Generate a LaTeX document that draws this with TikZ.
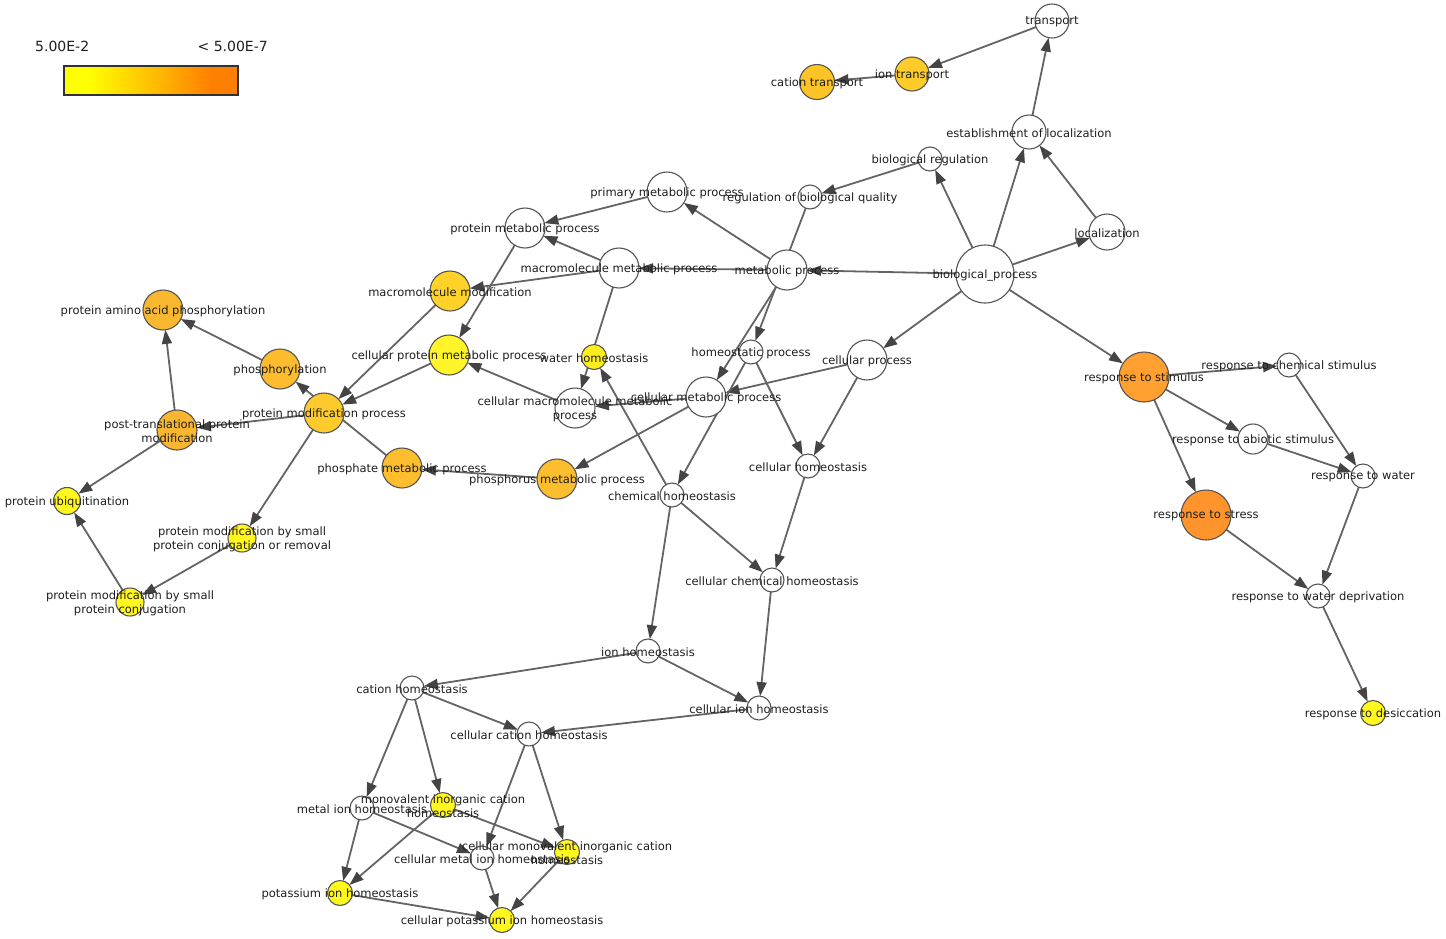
\documentclass[tikz,border=0pt]{standalone}
\usepackage{fontspec}
\setmainfont{DejaVu Sans}
\usetikzlibrary{arrows.meta}
\pgfdeclarelayer{bg}
\pgfsetlayers{bg,main}
\definecolor{ndraw}{RGB}{85,85,85}
\definecolor{ecol}{RGB}{100,100,100}
\definecolor{tipcol}{RGB}{68,68,68}
\definecolor{txt}{RGB}{30,30,30}
\definecolor{cyel}{RGB}{255,247,30}
\definecolor{citr}{RGB}{254,204,42}
\definecolor{cctr}{RGB}{253,196,40}
\definecolor{cmm}{RGB}{254,210,40}
\definecolor{cpaap}{RGB}{250,184,48}
\definecolor{cphos}{RGB}{252,188,46}
\definecolor{cpmp}{RGB}{254,202,44}
\definecolor{cptm}{RGB}{250,182,48}
\definecolor{cphate}{RGB}{252,190,46}
\definecolor{ccpmp}{RGB}{255,245,40}
\definecolor{cwh}{RGB}{255,238,30}
\definecolor{crs}{RGB}{255,160,48}
\definecolor{crst}{RGB}{255,148,44}
\definecolor{lyel}{RGB}{255,255,0}
\definecolor{lmid}{RGB}{255,192,0}
\definecolor{lor}{RGB}{255,128,0}
\definecolor{lbord}{RGB}{50,50,50}
\pgfdeclarehorizontalshading{legendgrad}{100bp}{color(0bp)=(lyel); color(32bp)=(lyel); color(50bp)=(lmid); color(67bp)=(lor); color(100bp)=(lor)}
\tikzset{
  gn/.style={circle, draw=ndraw, line width=1.1pt, fill=white, inner sep=0pt, outer sep=0pt, minimum size=#1},
  lbl/.style={text=txt, inner sep=0pt, align=center, yshift=-1pt, font=\fontsize{11.5}{14}\selectfont},
  leglbl/.style={text=txt, inner sep=0pt, font=\fontsize{14}{16}\selectfont},
  edge/.style={draw=ecol, line width=1.8pt, -{Triangle[length=14pt,width=10pt,color=tipcol]}}
}
\begin{document}
\begin{tikzpicture}[x=1pt,y=-1pt]
\useasboundingbox (0,0) rectangle (1446,938);
% legend
\node[leglbl, anchor=west] (legL) at (35,46) {5.00E-2};
\node[leglbl, anchor=east] (legR) at (268,46) {< 5.00E-7};
\node[draw=lbord, line width=1.1pt, shading=legendgrad, minimum width=174pt, minimum height=29pt, inner sep=0pt] (legbar) at (151,80.5) {};
% nodes
\node[gn=34] (tr) at (1052,21) {};
\node[gn=34, fill=citr] (itr) at (912,74) {};
\node[gn=35, fill=cctr] (ctr) at (817,82) {};
\node[gn=34] (eol) at (1029,132) {};
\node[gn=24] (breg) at (930,159) {};
\node[gn=24] (rbq) at (810,197) {};
\node[gn=40] (pmp1) at (667,192) {};
\node[gn=40] (protmp) at (525,228) {};
\node[gn=36] (loc) at (1107,232) {};
\node[gn=58] (bp) at (985,274) {};
\node[gn=40] (mp) at (787,270) {};
\node[gn=40] (mmp) at (619,268) {};
\node[gn=40, fill=cmm] (mmod) at (450,291) {};
\node[gn=40, fill=cpaap] (paap) at (163,310) {};
\node[gn=40, fill=cphos] (phos) at (280,369) {};
\node[gn=40, fill=ccpmp] (cpmp) at (449,355) {};
\node[gn=25, fill=cwh] (wh) at (594,357) {};
\node[gn=24] (hp) at (751,352) {};
\node[gn=40] (cp) at (867,360) {};
\node[gn=50, fill=crs] (rstim) at (1144,377) {};
\node[gn=24] (rchem) at (1289,365) {};
\node[gn=40, fill=cpmp] (pmodp) at (324,413) {};
\node[gn=40, fill=cptm] (ptm) at (177,430) {};
\node[gn=40] (cmmp) at (575,408) {};
\node[gn=40] (cmp) at (706,397) {};
\node[gn=30] (rabio) at (1253,439) {};
\node[gn=40, fill=cphate] (phate) at (402,468) {};
\node[gn=40, fill=cphate] (phorus) at (557,479) {};
\node[gn=24] (chom) at (808,466) {};
\node[gn=24] (chem) at (672,495) {};
\node[gn=24] (rwater) at (1363,476) {};
\node[gn=27, fill=cyel] (ubiq) at (67,501) {};
\node[gn=50, fill=crst] (rstress) at (1206,515) {};
\node[gn=28, fill=cyel] (pmcr) at (242,538) {};
\node[gn=24] (cchem) at (772,580) {};
\node[gn=24] (rwd) at (1318,596) {};
\node[gn=28, fill=cyel] (pmc) at (130,602) {};
\node[gn=24] (ionh) at (648,651) {};
\node[gn=24] (cath) at (412,688) {};
\node[gn=24] (cionh) at (759,708) {};
\node[gn=25, fill=cyel] (rdes) at (1373,713) {};
\node[gn=24] (ccath) at (529,734) {};
\node[gn=24] (metal) at (362,808) {};
\node[gn=25, fill=cyel] (mono) at (443,805) {};
\node[gn=24] (cmetal) at (482,858) {};
\node[gn=25, fill=cyel] (cmono) at (567,852) {};
\node[gn=25, fill=cyel] (pot) at (340,893) {};
\node[gn=25, fill=cyel] (cpot) at (502,920) {};
% edges
\begin{pgfonlayer}{bg}
\foreach \a/\b in {bp/breg, bp/eol, bp/loc, bp/mp, bp/cp, bp/rstim,
  loc/eol, eol/tr, tr/itr, itr/ctr, breg/rbq, rbq/hp,
  mp/pmp1, mp/mmp, mp/cmp, pmp1/protmp, mmp/protmp, mmp/mmod, mmp/cmmp,
  cmp/cmmp, cmp/phorus, cp/cmp, cp/chom, hp/chom, hp/chem,
  protmp/cpmp, cmmp/cpmp, mmod/pmodp, cpmp/pmodp, phate/phos, phorus/phate,
  pmodp/ptm, ptm/paap, phos/paap, ptm/ubiq, pmodp/pmcr, pmcr/pmc, pmc/ubiq,
  chem/wh, chem/ionh, chem/cchem, chom/cchem, cchem/cionh,
  ionh/cath, ionh/cionh, cionh/ccath, cath/ccath, cath/metal, cath/mono,
  ccath/cmetal, ccath/cmono, metal/cmetal, metal/pot, mono/cmono, mono/pot,
  pot/cpot, cmetal/cpot, cmono/cpot,
  rstim/rchem, rstim/rabio, rstim/rstress, rchem/rwater, rabio/rwater,
  rwater/rwd, rstress/rwd, rwd/rdes}
  \draw[edge] (\a) -- (\b);
\end{pgfonlayer}
% labels
\node[lbl] (l-tr) at (tr) {transport};
\node[lbl] (l-itr) at (itr) {ion transport};
\node[lbl] (l-ctr) at (ctr) {cation transport};
\node[lbl] (l-eol) at (eol) {establishment of localization};
\node[lbl] (l-breg) at (breg) {biological regulation};
\node[lbl] (l-rbq) at (rbq) {regulation of biological quality};
\node[lbl] (l-pmp1) at (pmp1) {primary metabolic process};
\node[lbl] (l-protmp) at (protmp) {protein metabolic process};
\node[lbl] (l-loc) at (loc) {localization};
\node[lbl] (l-bp) at (bp) {biological\_process};
\node[lbl] (l-mp) at (mp) {metabolic process};
\node[lbl] (l-mmp) at (mmp) {macromolecule metabolic process};
\node[lbl] (l-mmod) at (mmod) {macromolecule modification};
\node[lbl] (l-paap) at (paap) {protein amino acid phosphorylation};
\node[lbl] (l-phos) at (phos) {phosphorylation};
\node[lbl] (l-cpmp) at (cpmp) {cellular protein metabolic process};
\node[lbl] (l-wh) at (wh) {water homeostasis};
\node[lbl] (l-hp) at (hp) {homeostatic process};
\node[lbl] (l-cp) at (cp) {cellular process};
\node[lbl] (l-rstim) at (rstim) {response to stimulus};
\node[lbl] (l-rchem) at (rchem) {response to chemical stimulus};
\node[lbl] (l-pmodp) at (pmodp) {protein modification process};
\node[lbl] (l-ptm) at (ptm) {post-translational protein\\modification};
\node[lbl] (l-cmmp) at (cmmp) {cellular macromolecule metabolic\\process};
\node[lbl] (l-cmp) at (cmp) {cellular metabolic process};
\node[lbl] (l-rabio) at (rabio) {response to abiotic stimulus};
\node[lbl] (l-phate) at (phate) {phosphate metabolic process};
\node[lbl] (l-phorus) at (phorus) {phosphorus metabolic process};
\node[lbl] (l-chom) at (chom) {cellular homeostasis};
\node[lbl] (l-chem) at (chem) {chemical homeostasis};
\node[lbl] (l-rwater) at (rwater) {response to water};
\node[lbl] (l-ubiq) at (ubiq) {protein ubiquitination};
\node[lbl] (l-rstress) at (rstress) {response to stress};
\node[lbl] (l-pmcr) at (pmcr) {protein modification by small\\protein conjugation or removal};
\node[lbl] (l-cchem) at (cchem) {cellular chemical homeostasis};
\node[lbl] (l-rwd) at (rwd) {response to water deprivation};
\node[lbl] (l-pmc) at (pmc) {protein modification by small\\protein conjugation};
\node[lbl] (l-ionh) at (ionh) {ion homeostasis};
\node[lbl] (l-cath) at (cath) {cation homeostasis};
\node[lbl] (l-cionh) at (cionh) {cellular ion homeostasis};
\node[lbl] (l-rdes) at (rdes) {response to desiccation};
\node[lbl] (l-ccath) at (ccath) {cellular cation homeostasis};
\node[lbl] (l-metal) at (metal) {metal ion homeostasis};
\node[lbl] (l-mono) at (mono) {monovalent inorganic cation\\homeostasis};
\node[lbl] (l-cmetal) at (cmetal) {cellular metal ion homeostasis};
\node[lbl] (l-cmono) at (cmono) {cellular monovalent inorganic cation\\homeostasis};
\node[lbl] (l-pot) at (pot) {potassium ion homeostasis};
\node[lbl] (l-cpot) at (cpot) {cellular potassium ion homeostasis};
\end{tikzpicture}
\end{document}
